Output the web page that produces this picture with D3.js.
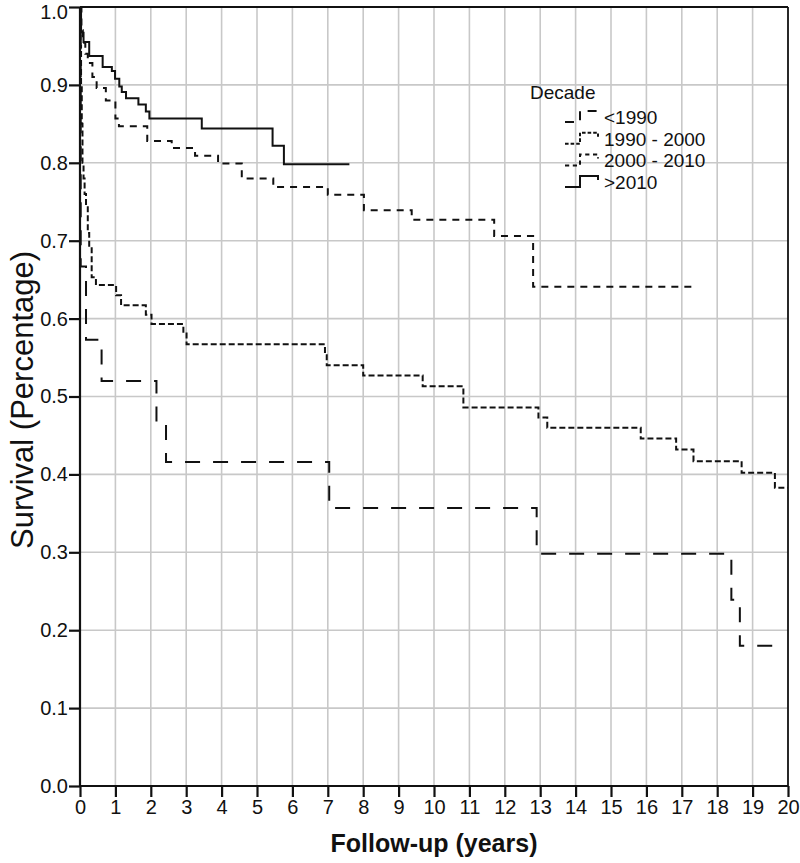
<!DOCTYPE html>
<html><head><meta charset="utf-8">
<script src="https://cdn.jsdelivr.net/npm/d3@7"></script>
<style>body{margin:0;background:#fff}svg{display:block}text{font-family:"Liberation Sans",Arial,sans-serif}</style>
</head><body><svg id="c" width="800" height="863"></svg>
<script>
// ---- data ----
const xTicks = d3.range(0, 21, 1);
const yTicks = d3.range(0, 11).map(d => d / 10);
const seriesNames = ["<1990", "1990 - 2000", "2000 - 2010", ">2010"];

const t1990 = [0, 0.02, 0.17, 0.61, 2.16, 2.43, 7.04, 12.9, 18.4, 18.64, 19.77];
const s1990 = [1.0, 0.667, 0.573, 0.52, 0.465, 0.416, 0.357, 0.298, 0.239, 0.18, 0.18];

const t1990_2000 = [0, 0.01, 0.03, 0.05, 0.07, 0.1, 0.13, 0.17, 0.22, 0.26, 0.33, 0.45, 1.02, 1.16, 1.86, 2.02, 2.92, 3.01, 6.92, 6.97, 8.0, 9.68, 10.83, 12.95, 13.2, 15.84, 16.84, 17.33, 18.69, 19.63, 20];
const s1990_2000 = [1.0, 0.95, 0.9, 0.85, 0.8, 0.78, 0.76, 0.743, 0.71, 0.692, 0.653, 0.643, 0.63, 0.617, 0.605, 0.593, 0.581, 0.567, 0.553, 0.54, 0.527, 0.513, 0.486, 0.473, 0.46, 0.446, 0.432, 0.417, 0.402, 0.383, 0.383];

const t2000_2010 = [0, 0.04, 0.08, 0.15, 0.22, 0.35, 0.47, 0.73, 1.0, 1.1, 1.9, 2.59, 3.25, 3.9, 4.57, 5.46, 7.0, 8.02, 9.37, 11.7, 12.8, 17.4];
const s2000_2010 = [1.0, 0.97, 0.954, 0.94, 0.928, 0.91, 0.896, 0.88, 0.857, 0.847, 0.828, 0.819, 0.809, 0.799, 0.78, 0.769, 0.759, 0.739, 0.727, 0.706, 0.641, 0.641];

const t2010 = [0, 0.03, 0.1, 0.26, 0.64, 0.9, 0.99, 1.11, 1.18, 1.3, 1.65, 1.86, 1.96, 3.44, 5.44, 5.76, 7.61];
const s2010 = [1.0, 0.967, 0.955, 0.937, 0.923, 0.918, 0.908, 0.898, 0.891, 0.883, 0.875, 0.866, 0.857, 0.844, 0.822, 0.798, 0.798];

const dashes = ["15,13", "6,3", "7,6", null];

// ---- chart ----
const svg = d3.select("#c");
const x = d3.scaleLinear().domain([0, 20]).range([80, 788]);
const y = d3.scaleLinear().domain([0, 1]).range([786, 7]);

// gridlines
svg.append("g").selectAll("line").data(xTicks.slice(1, -1)).join("line")
  .attr("x1", d => x(d)).attr("x2", d => x(d)).attr("y1", y(0)).attr("y2", y(1))
  .attr("stroke", "#c8c8c8").attr("stroke-width", 1.6);
svg.append("g").selectAll("line").data(yTicks.slice(1, -1)).join("line")
  .attr("x1", x(0)).attr("x2", x(20)).attr("y1", d => y(d)).attr("y2", d => y(d))
  .attr("stroke", "#c8c8c8").attr("stroke-width", 1.6);

// frame top/right
svg.append("line").attr("x1", x(0)).attr("x2", x(20)).attr("y1", y(1)).attr("y2", y(1)).attr("stroke", "#111").attr("stroke-width", 1.8);
svg.append("line").attr("x1", x(20)).attr("x2", x(20)).attr("y1", y(1)).attr("y2", y(0)).attr("stroke", "#111").attr("stroke-width", 1.8);

// axes
const xAxis = svg.append("g").attr("transform", `translate(0,${y(0)})`)
  .call(d3.axisBottom(x).tickValues(xTicks).tickFormat(d3.format("d")).tickSize(11).tickPadding(3));
const yAxis = svg.append("g").attr("transform", `translate(${x(0)},0)`)
  .call(d3.axisLeft(y).tickValues(yTicks).tickFormat(d3.format(".1f")).tickSize(11).tickPadding(1));
[xAxis, yAxis].forEach(a => {
  a.select(".domain").attr("stroke", "#111").attr("stroke-width", 2.2);
  a.selectAll(".tick line").attr("stroke", "#111").attr("stroke-width", 2.2);
  a.selectAll(".tick text").attr("fill", "#111").style("font-size", "20px");
});
xAxis.select(".domain").attr("d", `M${x(0)},0H${x(20)}`);
yAxis.select(".domain").attr("d", `M0,${y(0)}V${y(1)}`);
yAxis.selectAll(".tick text").filter(d => d === 1).attr("dy", "0.55em");

// curves
const allT = [t1990, t1990_2000, t2000_2010, t2010];
const allS = [s1990, s1990_2000, s2000_2010, s2010];
const line = d3.line().x(d => x(d[0])).y(d => y(d[1])).curve(d3.curveStepAfter);
allT.forEach((ts, i) => {
  const pts = ts.map((t, j) => [t, allS[i][j]]);
  svg.append("path").attr("d", line(pts)).attr("fill", "none")
    .attr("stroke", "#111").attr("stroke-width", 2)
    .attr("stroke-dasharray", dashes[i]);
});

// axis titles
svg.append("text").attr("x", 434).attr("y", 852).attr("text-anchor", "middle")
  .style("font-size", "25px").style("font-weight", "bold").attr("fill", "#111").text("Follow-up (years)");
svg.append("text").attr("transform", "translate(33,400) rotate(-90)").attr("text-anchor", "middle")
  .style("font-size", "31px").attr("fill", "#111").text("Survival (Percentage)");

// legend
svg.append("text").attr("x", 530).attr("y", 99).style("font-size", "19px").attr("fill", "#111").text("Decade");
seriesNames.forEach((n, i) => {
  const cy = 117 + i * 21.7;
  const g = svg.append("g");
  g.append("path").attr("d", `M565,${cy + 5}H580V${cy - 6}H598V${cy - 2}`)
    .attr("fill", "none").attr("stroke", "#111").attr("stroke-width", 2)
    .attr("stroke-dasharray", dashes[i] ? dashes[i].split(",").map(v => Math.max(2, v * 0.6)).join(",") : null);
  g.append("text").attr("x", 604).attr("y", cy + 7).style("font-size", "19px").attr("fill", "#111").text(n);
});
</script></body></html>
